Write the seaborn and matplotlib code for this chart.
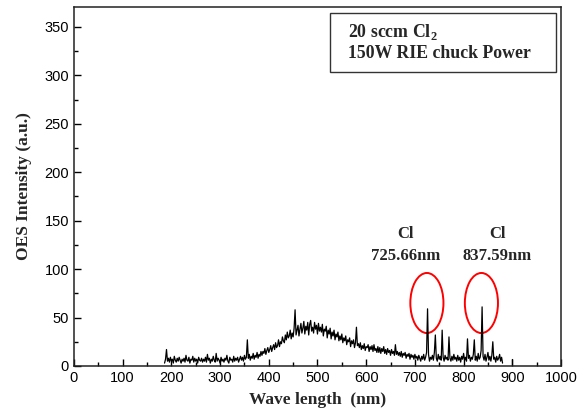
import numpy as np
import pandas as pd
import matplotlib
matplotlib.use("Agg")
import matplotlib.pyplot as plt
import seaborn as sns
from matplotlib.patches import Ellipse, Rectangle
from matplotlib.ticker import MultipleLocator


# wavelength grid of the spectrum (nm), one reading every 2 nm
wave_start, wave_stop, wave_step = 186, 880, 2

# OES intensity, 20 values per row (40 nm)
intensity = [
    3, 7, 17, 5, 8, 4, 9, 5, 7, 3, 10, 6, 4, 8, 5, 9, 6, 3, 7, 5,              # 186-224
    8, 4, 11, 6, 5, 9, 3, 7, 6, 10, 4, 8, 5, 7, 3, 9, 6, 5, 8, 4,              # 226-264
    7, 5, 9, 4, 12, 6, 8, 3, 7, 5, 10, 6, 4, 13, 5, 8, 6, 3, 9, 5,             # 266-304
    7, 4, 8, 6, 11, 5, 3, 9, 6, 7, 4, 10, 5, 8, 6, 9, 4, 7, 10, 6,             # 306-344
    9, 5, 11, 7, 9, 27, 8, 12, 6, 10, 8, 13, 7, 11, 9, 14, 8, 12, 10, 15,      # 346-384
    11, 15, 13, 18, 12, 16, 19, 14, 17, 21, 15, 19, 22, 17, 24, 19, 21, 27, 20, 25,  # 386-424
    23, 30, 26, 24, 32, 27, 35, 29, 31, 37, 28, 34, 30, 39, 58, 32, 37, 42, 31, 38,  # 426-464
    44, 34, 39, 46, 33, 41, 37, 45, 32, 43, 47, 36, 40, 34, 45, 38, 42, 33, 44, 36,  # 466-504
    40, 35, 43, 31, 38, 36, 41, 29, 37, 33, 39, 28, 35, 31, 37, 27, 33, 30, 35, 26,  # 506-544
    31, 27, 33, 24, 29, 26, 31, 22, 27, 25, 29, 20, 26, 23, 27, 19, 24, 40, 21, 23,  # 546-584
    19, 24, 17, 21, 18, 23, 16, 20, 19, 22, 15, 20, 17, 21, 15, 22, 16, 18, 14, 20,  # 586-624
    14, 19, 13, 18, 15, 20, 13, 17, 12, 18, 14, 16, 11, 17, 13, 15, 11, 22, 12, 15,  # 626-664
    11, 14, 10, 15, 9, 13, 11, 14, 8, 12, 10, 13, 7, 12, 9, 11, 7, 12, 8, 10,        # 666-704
    6, 11, 8, 5, 10, 7, 12, 6, 9, 14, 59, 12, 5, 9, 7, 11, 6, 14, 32, 8,             # 706-744
    5, 12, 7, 10, 6, 37, 9, 5, 11, 7, 9, 6, 30, 8, 5, 10, 6, 12, 7, 9,               # 746-784
    5, 11, 6, 9, 4, 10, 7, 13, 6, 9, 5, 28, 8, 11, 5, 9, 7, 12, 27, 6,               # 786-824
    10, 5, 13, 7, 9, 16, 61, 10, 6, 12, 5, 9, 14, 6, 10, 5, 11, 25, 7, 9,            # 826-864
    4, 10, 6, 8, 12, 5, 9, 3,                                                        # 866-880
]

# lone little line near 900 nm
stray_wave = [899, 899]
stray_int = [1, 7]

# Cl emission lines
cl_lines = ["725.66nm", "837.59nm"]
cl_peak_wave = [725.66, 837.59]

wavelength = np.arange(wave_start, wave_stop + 1, wave_step)
df = pd.DataFrame({"wave": wavelength, "oes": intensity})

sns.set_theme(style="ticks")
plt.rcParams["font.family"] = ["Liberation Sans", "DejaVu Sans"]
plt.rcParams["mathtext.fontset"] = "custom"
plt.rcParams["mathtext.rm"] = "Liberation Serif:bold"

fig = plt.figure(figsize=(5.87, 4.11), dpi=100)
ax = fig.add_axes([0.126, 0.1095, 0.8297, 0.8735])

sns.lineplot(data=df, x="wave", y="oes", color="black", lw=0.9,
             estimator=None, sort=False, ax=ax)
sns.lineplot(x=stray_wave, y=stray_int, color="black", lw=0.9,
             estimator=None, sort=False, ax=ax)

ax.set_xlim(0, 1000)
ax.set_ylim(0, 370.5)
ax.xaxis.set_major_locator(MultipleLocator(100))
ax.xaxis.set_minor_locator(MultipleLocator(50))
ax.yaxis.set_major_locator(MultipleLocator(50))
ax.yaxis.set_minor_locator(MultipleLocator(25))
ax.tick_params(which="both", direction="in", top=False, right=False,
               labelsize=10.5, colors="black", width=1)
ax.tick_params(which="major", length=5)
ax.tick_params(which="minor", length=3)
for sp in ax.spines.values():
    sp.set_visible(True)
    sp.set_linewidth(1.1)
    sp.set_color("#222222")

serif = dict(family=["Liberation Serif", "DejaVu Serif"], weight="bold")
ax.set_xlabel("Wave length  (nm)", fontsize=12.5, labelpad=5, **serif)
ax.set_ylabel("OES Intensity (a.u.)", fontsize=12.5, labelpad=9, **serif)

# legend-like box in the top right
ax.add_patch(Rectangle((526, 303.5), 464, 61, fill=False, lw=1.0,
                       edgecolor="#333333"))
ax.text(563, 345, "20 sccm Cl$_\\mathregular{2}$", fontsize=12.8,
        va="center", ha="left", **serif)
ax.text(563, 323, "150W RIE chuck Power", fontsize=12.8,
        va="center", ha="left", **serif)

# red circles around the Cl peaks and their labels
label_x = [680, 869]
for wl, name, lx in zip(cl_peak_wave, cl_lines, label_x):
    ax.add_patch(Ellipse((wl - 1, 65), 68, 62, fill=False,
                         edgecolor="red", lw=1.4))
    ax.text(lx, 136, "Cl", fontsize=12, ha="center", va="center", **serif)
    ax.text(lx, 113.5, name, fontsize=12, ha="center", va="center", **serif)

plt.savefig("out.png", dpi=100)
plt.close()
